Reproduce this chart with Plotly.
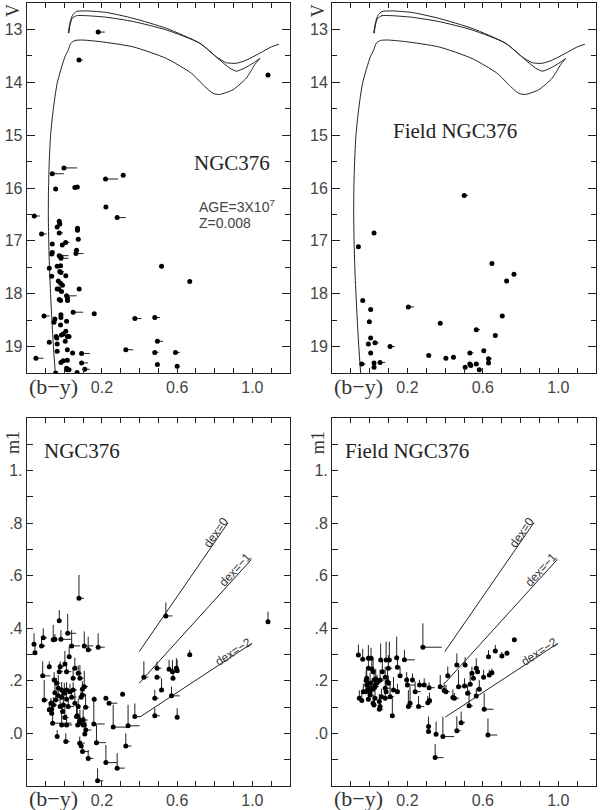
import plotly.graph_objects as go

# ---------------- Isochrones (b-y, V) ----------------
iso_low_by = [-0.048, -0.058, -0.066, -0.073, -0.079, -0.083, -0.085, -0.084, -0.080, -0.073,
              -0.059, -0.038, 0.003, 0.021, 0.035, 0.056, 0.092, 0.189, 0.366, 0.543,
              0.676, 0.747, 0.791, 0.826, 0.897, 0.968, 1.012, 1.039]
iso_low_V = [19.5, 19.0, 18.5, 18.0, 17.5, 17.0, 16.5, 16.0, 15.5, 15.0,
             14.52, 14.02, 13.52, 13.39, 13.26, 13.21, 13.20, 13.23, 13.33, 13.55,
             13.83, 14.08, 14.21, 14.23, 14.14, 13.92, 13.67, 13.55]

iso_mid_by = [0.024, 0.030, 0.042, 0.065, 0.118, 0.225, 0.366, 0.543, 0.720, 0.817,
              0.879, 0.915, 0.959, 1.003, 1.039]
iso_mid_V = [13.07, 12.92, 12.79, 12.74, 12.74, 12.77, 12.85, 13.01, 13.26, 13.55,
             13.73, 13.79, 13.73, 13.64, 13.55]

iso_top_by = [0.021, 0.030, 0.044, 0.065, 0.118, 0.225, 0.366, 0.543, 0.720, 0.809,
              0.862, 0.915, 0.968, 1.039, 1.101, 1.141]
iso_top_V = [13.07, 12.88, 12.73, 12.66, 12.65, 12.68, 12.79, 12.98, 13.26, 13.52,
             13.63, 13.64, 13.58, 13.45, 13.33, 13.28]

# ---------------- CMD NGC376 ----------------
cl_by = [0.18, 0.078, 1.083, -0.002, -0.064, -0.046, 0.056, 0.069, 0.219, 0.313,
         0.221, 0.281, -0.16, -0.121, -0.027, -0.024, -0.038, -0.027, 0.07, 0.07,
         0.074, -0.064, 0.007, -0.011, 0.065, 0.062, -0.064, -0.067, -0.027, -0.018,
         -0.018, -0.038, -0.02, -0.08, -0.024, -0.018, -0.067, 0.008, 0.517, 0.667,
         -0.032, -0.02, -0.01, -0.03, -0.038, 0.079, -0.015, 0.012, 0.017, 0.017,
         -0.027, -0.02, 0.047, 0.159, -0.108, -0.018, -0.018, 0.375, 0.481, -0.05,
         -0.055, 0.012, -0.02, 0.008, -0.015, 0.016, 0.025, -0.043, -0.04, -0.006,
         0.005, -0.038, -0.08, 0.495, 0.327, 0.016, 0.481, 0.591, 0.044, 0.092,
         -0.038, -0.151, 0.092, 0.016, -0.006, -0.018, 0.495, 0.6, 0.012, 0.016,
         0.025, 0.109, -0.046, 0.068]
cl_V = [13.05, 13.58, 13.86, 15.62, 15.73, 16.02, 15.99, 15.98, 15.83, 15.76,
        16.36, 16.56, 16.53, 16.87, 16.63, 16.68, 16.74, 16.85, 16.76, 16.80,
        16.97, 17.06, 17.03, 17.08, 17.18, 17.24, 17.22, 17.25, 17.28, 17.33,
        17.30, 17.48, 17.47, 17.52, 17.58, 17.60, 17.67, 17.66, 17.48, 17.77,
        17.76, 17.80, 17.84, 17.91, 17.91, 17.91, 17.96, 18.04, 18.08, 18.13,
        18.11, 18.13, 18.35, 18.38, 18.42, 18.40, 18.45, 18.47, 18.45, 18.48,
        18.54, 18.52, 18.59, 18.71, 18.78, 18.81, 18.81, 18.81, 18.84, 18.76,
        18.90, 18.95, 18.92, 18.90, 19.06, 19.06, 19.11, 19.11, 19.12, 19.13,
        19.09, 19.22, 19.31, 19.26, 19.27, 19.30, 19.34, 19.37, 19.41, 19.44,
        19.44, 19.43, 19.50, 19.49]
cl_err = [0.035, 0.02, 0, 0.07, 0.062, 0, 0.01, 0.01, 0.067, 0,
          0, 0.046, 0.03, 0.027, 0, 0, 0, 0.02, 0.01, 0.01,
          0, 0, 0.02, 0, 0.01, 0.04, 0, 0, 0.05, 0.04,
          0, 0, 0, 0, 0.02, 0, 0, 0, 0, 0,
          0, 0, 0, 0, 0, 0, 0, 0.053, 0, 0,
          0, 0, 0.053, 0, 0.03, 0, 0, 0.035, 0.027, 0,
          0, 0.01, 0, 0, 0, 0, 0, 0, 0, 0,
          0, 0, 0, 0.03, 0.04, 0, 0.02, 0.023, 0, 0.044,
          0, 0.04, 0.035, 0, 0, 0, 0, 0, 0, 0,
          0, 0.027, 0, 0]

# ---------------- CMD Field ----------------
fd_by = [0.501, 0.023, -0.06, 0.648, 0.765, 0.726, -0.037, 0.005, 0.205, 0.703,
         -0.002, 0.374, 0.565, 0.666, 0.005, 0.028, -0.007, 0.108, 0.005, 0.313,
         0.404, 0.444, 0.531, 0.605, 0.63, 0.63, -0.042, 0.023, 0.055, 0.023,
         0.531, 0.536, 0.565, 0.506, 0.581]
fd_V = [16.14, 16.85, 17.11, 17.43, 17.63, 17.76, 18.13, 18.30, 18.25, 18.42,
        18.53, 18.56, 18.68, 18.79, 18.84, 18.93, 18.95, 19.00, 19.12, 19.17,
        19.22, 19.20, 19.12, 19.08, 19.23, 19.31, 19.33, 19.31, 19.30, 19.39,
        19.33, 19.36, 19.33, 19.39, 19.44]
fd_err = [0.02, 0, 0, 0, 0, 0, 0, 0, 0.03, 0,
          0, 0, 0.02, 0, 0, 0.02, 0, 0.025, 0, 0,
          0, 0, 0.02, 0, 0.018, 0.01, 0.02, 0, 0.027, 0,
          0, 0, 0.015, 0, 0]

# ---------------- m1 NGC376 ----------------
m_cl_by = [0.078, 1.083, 0.54, 0.667, 0.423, 0.493, 0.493, 0.517, 0.481, 0.481,
           0.557, 0.575, 0.578, 0.596, 0.6, 0.57, 0.6, 0.375, 0.31, 0.339,
           0.26, 0.327, 0.221, 0.238, 0.281, 0.221, 0.159, 0.157, 0.171, 0.177,
           0.127, 0.097, 0.082, 0.09, 0.109, 0.114, 0.1, 0.082, 0.069, 0.008,
           -0.038, -0.062, -0.156, -0.161, -0.121, -0.112, -0.059, -0.05, -0.027, -0.018,
           0.018, 0.039, 0.106, 0.127, 0.18, -0.115, -0.08, -0.107, -0.08, -0.067,
           -0.027, 0.026, 0.003, -0.022, 0.012, 0.056, 0.074, 0.047, 0.083, 0.106,
           -0.054, -0.041, -0.032, -0.014, 0.012, 0.0, 0.03, 0.047, -0.032, -0.014,
           0.012, 0.039, 0.056, -0.05, -0.046, -0.067, -0.071, -0.058, -0.022, -0.005,
           0.021, -0.009, 0.003, -0.014, 0.012, 0.065, 0.083, 0.071, 0.1, 0.106,
           0.096, 0.096, 0.089, 0.113, 0.074]
m_cl_m1 = [0.514, 0.425, 0.447, 0.299, 0.214, 0.248, 0.214, 0.165, 0.134, 0.067,
           0.244, 0.235, 0.210, 0.248, 0.238, 0.143, 0.062, 0.064, 0.149, 0.029,
           0.024, -0.048, 0.134, 0.115, -0.132, -0.111, 0.13, 0.036, -0.035, -0.18,
           -0.095, -0.069, -0.037, -0.048, -0.002, 0.013, 0.032, 0.041, 0.067, -0.031,
           -0.012, 0.039, 0.307, 0.339, 0.333, 0.364, 0.356, 0.358, 0.429, 0.358,
           0.381, 0.333, 0.333, 0.318, 0.328, 0.219, 0.254, 0.127, 0.09, 0.077,
           0.235, 0.292, 0.264, 0.254, 0.235, 0.248, 0.229, 0.21, 0.21, 0.178,
           0.203, 0.191, 0.172, 0.165, 0.165, 0.153, 0.159, 0.165, 0.143, 0.138,
           0.13, 0.138, 0.115, 0.155, 0.127, 0.092, 0.115, 0.108, 0.102, 0.108,
           0.102, 0.083, 0.061, 0.032, 0.032, 0.064, 0.051, 0.032, 0.051, 0.032,
           0.168, 0.146, 0.138, 0.1, 0.102]
m_cl_up = [0.089, 0.038, 0.051, 0.019, 0.06, 0.025, 0, 0.044, 0.032, 0.029,
           0.036, 0.044, 0.032, 0.038, 0.042, 0.035, 0.034, 0.05, 0.01, 0.08,
           0.085, 0.048, 0.006, 0, 0.057, 0.067, 0.01, 0.098, 0.067, 0.047,
           0.032, 0.025, 0.025, 0.02, 0.02, 0.032, 0.032, 0.02, 0.035, 0.032,
           0.025, 0.038, 0.029, 0.042, 0.029, 0.036, 0.057, 0.02, 0.04, 0.035,
           0.074, 0.06, 0.055, 0.05, 0.053, 0.055, 0.02, 0.076, 0.02, 0.05,
           0.03, 0.04, 0.05, 0.02, 0.03, 0.04, 0.03, 0.04, 0.05, 0.06,
           0.03, 0.02, 0.05, 0.03, 0.03, 0.04, 0.03, 0.03, 0.02, 0.03,
           0.04, 0.03, 0.04, 0.03, 0.02, 0.03, 0.02, 0.03, 0.04, 0.03,
           0.03, 0.03, 0.04, 0.05, 0.04, 0.03, 0.04, 0.02, 0.04, 0.03,
           0.03, 0.04, 0.02, 0.05, 0.03]
m_cl_rt = [0.027, 0, 0.035, 0, 0.023, 0.023, 0.02, 0, 0.02, 0.027,
           0, 0, 0, 0, 0, 0.044, 0, 0.027, 0, 0.062,
           0.08, 0.03, 0, 0.044, 0.04, 0.06, 0, 0.058, 0.05, 0.03,
           0.027, 0.03, 0.027, 0, 0, 0.03, 0, 0, 0, 0.02,
           0, 0.1, 0, 0, 0.02, 0.02, 0, 0, 0, 0.055,
           0.045, 0.045, 0.048, 0.02, 0.035, 0.04, 0, 0.02, 0, 0,
           0.02, 0, 0, 0.02, 0.025, 0, 0.02, 0, 0.02, 0.02,
           0, 0.02, 0, 0.02, 0, 0.02, 0, 0.02, 0, 0.02,
           0, 0.025, 0, 0, 0.02, 0, 0, 0.02, 0, 0.02,
           0.03, 0, 0.02, 0.03, 0.03, 0.02, 0, 0.02, 0.025, 0,
           0, 0.02, 0, 0.02, 0]

# ---------------- m1 Field ----------------
m_fd_by = [0.282, 0.767, 0.666, 0.63, 0.701, 0.728, 0.648, 0.634, 0.604, 0.572,
           0.565, 0.542, 0.55, 0.533, 0.519, 0.503, 0.471, 0.462, 0.506, 0.414,
           0.374, 0.395, 0.404, 0.441, 0.449, 0.527, 0.565, 0.581, 0.607, 0.627,
           0.485, 0.462, 0.388, 0.352, 0.312, 0.312, 0.347, 0.317, 0.308, 0.315,
           0.289, 0.264, 0.241, 0.259, 0.214, 0.205, 0.2, 0.227, 0.196, 0.161,
           0.184, 0.147, 0.143, 0.104, 0.087, 0.058, 0.099, 0.067, 0.055, 0.082,
           0.094, 0.099, 0.082, 0.087, 0.126, 0.147, 0.108, 0.062, 0.082, 0.051,
           0.051, 0.055, 0.12, 0.023, 0.028, 0.028, 0.023, 0.018, 0.011, -0.007,
           -0.007, 0.007, -0.037, -0.06, -0.055, -0.042, -0.034, -0.019, -0.016, -0.007,
           0.002, 0.002, 0.007, -0.007, 0.002, 0.016, 0.03, 0.039, 0.018, 0.032,
           -0.016, -0.021]
m_fd_m1 = [0.328, 0.356, 0.314, 0.292, 0.295, 0.305, 0.231, 0.222, 0.214, 0.235,
           0.248, 0.229, 0.21, 0.187, 0.153, 0.18, 0.178, 0.26, 0.26, 0.219,
           0.178, 0.163, 0.159, 0.137, 0.134, 0.105, 0.142, 0.168, 0.092, -0.006,
           0.041, 0.01, -0.012, -0.003, 0.007, 0.026, -0.092, 0.125, 0.117, 0.174,
           0.184, 0.184, 0.159, 0.102, 0.115, 0.102, 0.184, 0.203, 0.203, 0.219,
           0.28, 0.252, 0.288, 0.279, 0.279, 0.279, 0.248, 0.235, 0.203, 0.214,
           0.197, 0.191, 0.172, 0.159, 0.165, 0.159, 0.14, 0.14, 0.134, 0.121,
           0.092, 0.102, 0.067, 0.108, 0.134, 0.178, 0.203, 0.235, 0.245, 0.248,
           0.286, 0.286, 0.282, 0.298, 0.134, 0.125, 0.159, 0.201, 0.184, 0.168,
           0.159, 0.146, 0.172, 0.13, 0.191, 0.168, 0.184, 0.193, 0.115, 0.206,
           0.21, 0.159]
m_fd_up = [0.091, 0, 0.023, 0.025, 0.015, 0.01, 0.016, 0.02, 0.028, 0.02,
           0.038, 0.025, 0.02, 0.035, 0.03, 0.03, 0.063, 0.044, 0.03, 0.036,
           0.044, 0.03, 0.025, 0.03, 0.02, 0.061, 0.03, 0.035, 0.061, 0.063,
           0.042, 0.055, 0.076, 0.048, 0.038, 0.038, 0.052, 0.03, 0.025, 0.02,
           0.025, 0.02, 0.038, 0.04, 0.063, 0.063, 0.03, 0.025, 0.03, 0.036,
           0.038, 0.03, 0.08, 0.07, 0.07, 0.063, 0.05, 0.04, 0.04, 0.04,
           0.05, 0.03, 0.03, 0.04, 0.05, 0.03, 0.05, 0.03, 0.04, 0.03,
           0.04, 0.03, 0.074, 0.03, 0.04, 0.03, 0.04, 0.05, 0.05, 0.05,
           0.05, 0.04, 0.04, 0.04, 0.03, 0.03, 0.03, 0.04, 0.04, 0.04,
           0.03, 0.03, 0.03, 0.03, 0.04, 0.03, 0.03, 0.03, 0.03, 0.04,
           0.03, 0.03]
m_fd_rt = [0.1, 0, 0, 0, 0, 0, 0, 0, 0, 0,
           0, 0, 0, 0, 0.02, 0.02, 0.02, 0, 0, 0,
           0.02, 0, 0.02, 0, 0.025, 0.02, 0, 0, 0.05, 0.05,
           0.02, 0.02, 0.06, 0, 0, 0, 0.045, 0, 0.02, 0.03,
           0, 0, 0.03, 0.03, 0, 0.02, 0.04, 0, 0, 0,
           0.055, 0, 0, 0, 0, 0, 0.02, 0, 0.02, 0,
           0.02, 0, 0.03, 0, 0.03, 0, 0.02, 0, 0.02, 0,
           0.02, 0, 0, 0, 0, 0.02, 0, 0, 0, 0,
           0, 0, 0, 0, 0, 0, 0, 0, 0, 0,
           0, 0.02, 0, 0, 0, 0.02, 0, 0.02, 0, 0,
           0, 0]

# ---------------- dex reference lines (b-y, m1) ----------------
dex0_by = [0.398, 0.871]
dex0_m1 = [0.311, 0.802]
dexm1_by = [0.398, 0.995]
dexm1_m1 = [0.191, 0.662]
dexm2_by = [0.401, 0.998]
dexm2_m1 = [0.062, 0.343]

# ---------------- axis tick labels ----------------
x_tick_vals = [-0.1, 0.0, 0.1, 0.2, 0.3, 0.4, 0.5, 0.6, 0.7, 0.8, 0.9, 1.0, 1.1]
x_tick_text = ['', '', '', '0.2', '', '', '', '0.6', '', '', '', '1.0', '']
v_tick_vals = [13, 14, 15, 16, 17, 18, 19]
v_tick_text = ['13', '14', '15', '16', '17', '18', '19']
m1_tick_vals = [-0.1, 0.0, 0.1, 0.2, 0.3, 0.4, 0.5, 0.6, 0.7, 0.8, 0.9, 1.0, 1.1]
m1_tick_text = ['', '.0', '', '.2', '', '.4', '', '.6', '', '.8', '', '1.', '']

W, H = 600, 810
INK = '#222'
fig = go.Figure()


def px(x):
    return x / W


def py(y):
    return 1 - y / H


def add_iso(xa, ya):
    for bx, vv in [(iso_low_by, iso_low_V), (iso_mid_by, iso_mid_V), (iso_top_by, iso_top_V)]:
        fig.add_trace(go.Scatter(x=bx, y=vv, mode='lines', xaxis=xa, yaxis=ya,
                                 line=dict(color=INK, width=1, shape='spline', smoothing=0.6),
                                 showlegend=False, hoverinfo='skip'))


def add_cmd(xa, ya, bx, vv, ex):
    fig.add_trace(go.Scatter(x=bx, y=vv, mode='markers', xaxis=xa, yaxis=ya,
                             marker=dict(size=5, color='black'),
                             error_x=dict(type='data', symmetric=False, array=ex,
                                          arrayminus=[0] * len(ex), width=0, thickness=1, color=INK),
                             showlegend=False, hoverinfo='skip'))


def add_m1(xa, ya, bx, mm, up, rt):
    fig.add_trace(go.Scatter(x=bx, y=mm, mode='markers', xaxis=xa, yaxis=ya,
                             marker=dict(size=5, color='black'),
                             error_x=dict(type='data', symmetric=False, array=rt,
                                          arrayminus=[0] * len(rt), width=0, thickness=1, color=INK),
                             error_y=dict(type='data', symmetric=False, array=up,
                                          arrayminus=[0] * len(up), width=0, thickness=1, color=INK),
                             showlegend=False, hoverinfo='skip'))


def add_dex(xa, ya):
    for bx, mm in [(dex0_by, dex0_m1), (dexm1_by, dexm1_m1), (dexm2_by, dexm2_m1)]:
        fig.add_trace(go.Scatter(x=bx, y=mm, mode='lines', xaxis=xa, yaxis=ya,
                                 line=dict(color=INK, width=1), showlegend=False, hoverinfo='skip'))


add_iso('x', 'y')
add_cmd('x', 'y', cl_by, cl_V, cl_err)
add_iso('x2', 'y2')
add_cmd('x2', 'y2', fd_by, fd_V, fd_err)
add_dex('x3', 'y3')
add_m1('x3', 'y3', m_cl_by, m_cl_m1, m_cl_up, m_cl_rt)
add_dex('x4', 'y4')
add_m1('x4', 'y4', m_fd_by, m_fd_m1, m_fd_up, m_fd_rt)

tickfont = dict(family='Liberation Sans', size=16, color='#444')
base = dict(showline=True, linecolor=INK, linewidth=1, mirror='ticks', ticks='inside',
            tickcolor=INK, tickwidth=1, showgrid=False, zeroline=False, tickfont=tickfont,
            fixedrange=True)

xd_left = [px(26.7), px(290)]
xd_right = [px(332), px(596)]
yd_top = [py(373), py(3)]
yd_bot = [py(786), py(418)]


def xax(dom, anchor):
    return dict(base, domain=dom, anchor=anchor, range=[-0.2, 1.2], tickmode='array',
                tickvals=x_tick_vals, ticktext=x_tick_text, ticklen=5)


def vax(dom, anchor):
    return dict(base, domain=dom, anchor=anchor, range=[19.5, 12.5], tickmode='array',
                tickvals=v_tick_vals, ticktext=v_tick_text, ticklen=8,
                minor=dict(tickvals=[13.5, 14.5, 15.5, 16.5, 17.5, 18.5, 19.5, 12.5],
                           ticklen=5, tickcolor=INK, ticks='inside'))


def max_(dom, anchor):
    return dict(base, domain=dom, anchor=anchor, range=[-0.2, 1.2], tickmode='array',
                tickvals=m1_tick_vals, ticktext=m1_tick_text, ticklen=6)


serif = 'Liberation Serif'
ann = []


def A(**kw):
    d = dict(showarrow=False, xanchor='center', yanchor='middle')
    d.update(kw)
    ann.append(d)


# panel titles
A(x=0.893, y=15.52, xref='x', yref='y', text='NGC376', font=dict(family=serif, size=21, color='#222'))
A(x=0.704, y=16.34, xref='x', yref='y', text='AGE=3X10<sup>7</sup>', xanchor='left',
  font=dict(family='Liberation Sans', size=14, color='#444'))
A(x=0.704, y=16.67, xref='x', yref='y', text='Z=0.008', xanchor='left',
  font=dict(family='Liberation Sans', size=14, color='#444'))
A(x=0.453, y=14.92, xref='x2', yref='y2', text='Field NGC376', font=dict(family=serif, size=21, color='#222'))
A(x=0.092, y=1.075, xref='x3', yref='y3', text='NGC376', font=dict(family=serif, size=21, color='#222'))
A(x=0.198, y=1.075, xref='x4', yref='y4', text='Field NGC376', font=dict(family=serif, size=21, color='#222'))

# axis titles
for xoff in [0, 305.3]:
    A(x=px(53 + xoff), y=py(386), xref='paper', yref='paper', text='(b\u2212y)',
      font=dict(family=serif, size=22, color='#333'))
    A(x=px(53 + xoff), y=py(798), xref='paper', yref='paper', text='(b\u2212y)',
      font=dict(family=serif, size=22, color='#333'))
    A(x=px(13 + xoff), y=py(11), xref='paper', yref='paper', text='V', textangle=-90,
      font=dict(family=serif, size=18, color='#333'))
    A(x=px(13 + xoff), y=py(443), xref='paper', yref='paper', text='m1', textangle=-90,
      font=dict(family=serif, size=18, color='#333'))

# dex labels
for xr, yr in [('x3', 'y3'), ('x4', 'y4')]:
    A(x=0.803, y=0.764, xref=xr, yref=yr, text='dex=0', textangle=-55.4,
      font=dict(family='Liberation Sans', size=12, color='#333'))
    A(x=0.906, y=0.622, xref=xr, yref=yr, text='dex=\u22121', textangle=-47.8,
      font=dict(family='Liberation Sans', size=12, color='#333'))
    A(x=0.897, y=0.311, xref=xr, yref=yr, text='dex=\u22122', textangle=-33.4,
      font=dict(family='Liberation Sans', size=12, color='#333'))

fig.update_layout(
    width=W, height=H, margin=dict(l=0, r=0, t=0, b=0),
    paper_bgcolor='white', plot_bgcolor='white', showlegend=False,
    xaxis=xax(xd_left, 'y'), yaxis=vax(yd_top, 'x'),
    xaxis2=xax(xd_right, 'y2'), yaxis2=vax(yd_top, 'x2'),
    xaxis3=xax(xd_left, 'y3'), yaxis3=max_(yd_bot, 'x3'),
    xaxis4=xax(xd_right, 'y4'), yaxis4=max_(yd_bot, 'x4'),
    annotations=ann,
)

fig.write_html('out.html', config={'displayModeBar': False},
               post_script="document.body.style.margin='0';document.body.style.overflow='hidden';")
